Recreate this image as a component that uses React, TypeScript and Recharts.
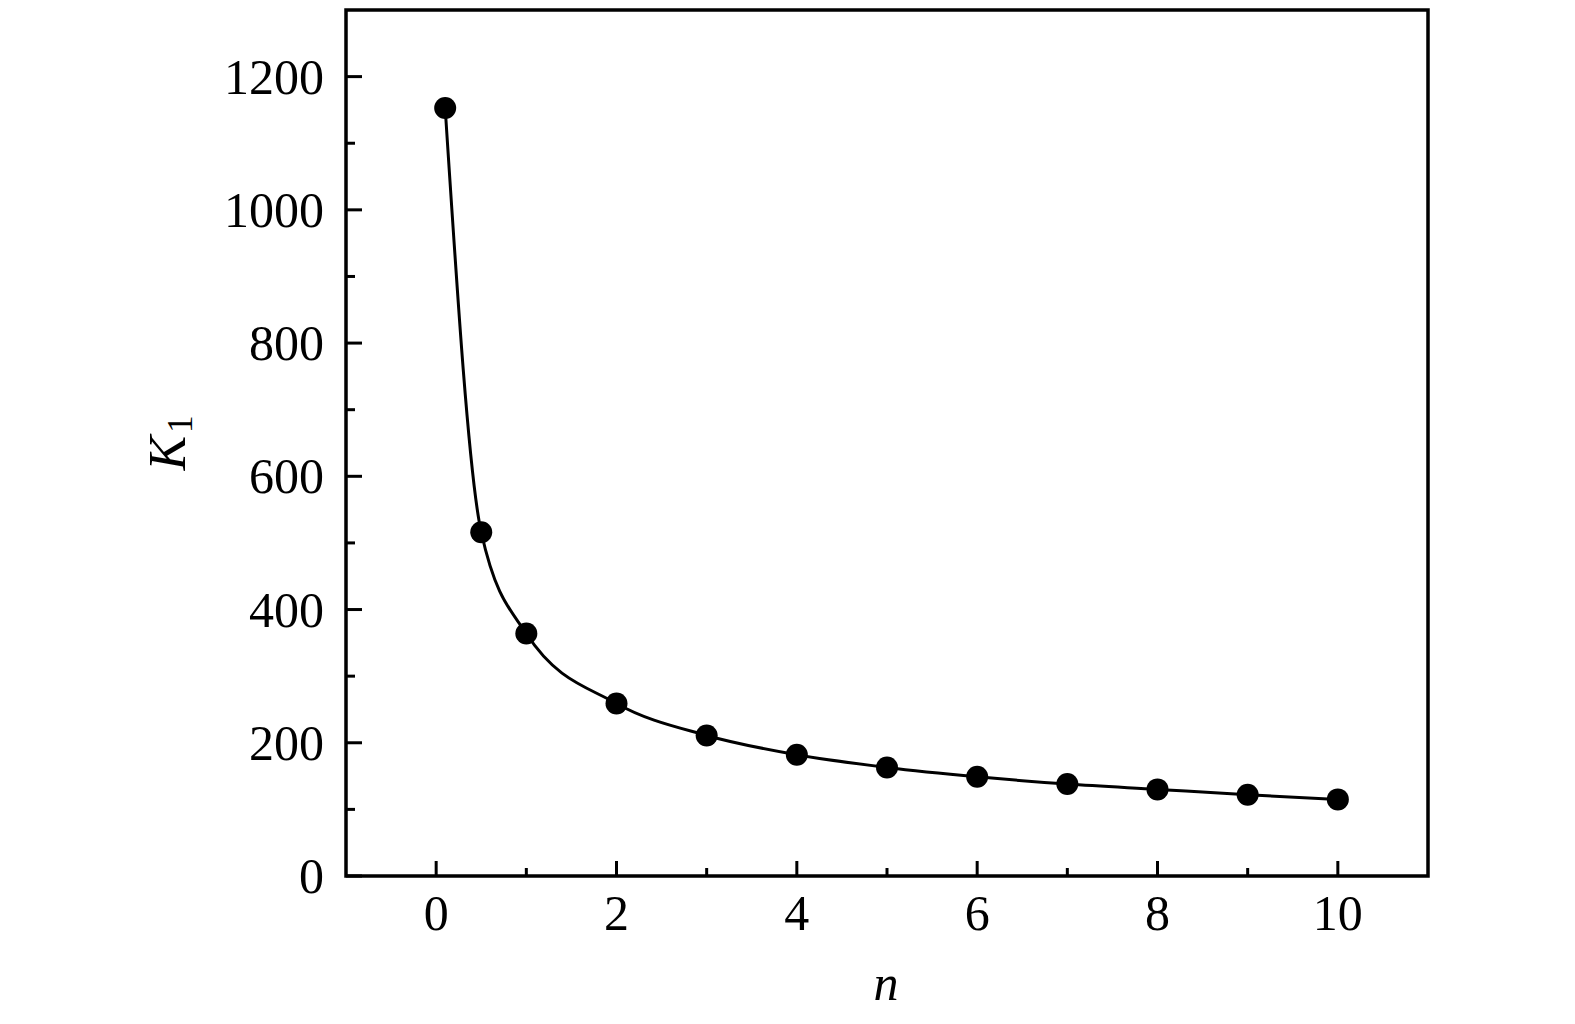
import { LineChart, Line, XAxis, YAxis, ReferenceArea, Label } from 'recharts'

// n values and fitted K1 values
const nValues = [0.1, 0.5, 1, 2, 3, 4, 5, 6, 7, 8, 9, 10]
const k1Values = [1153, 516, 364, 259, 211, 182, 163, 149, 138, 130, 122, 115]

const xTicks = [0, 1, 2, 3, 4, 5, 6, 7, 8, 9, 10]
const yTicks = [0, 100, 200, 300, 400, 500, 600, 700, 800, 900, 1000, 1100, 1200]

const data = nValues.map((n, i) => ({ n, k1: k1Values[i] }))

const FONT = '"Liberation Serif", "DejaVu Serif", serif'

function XTick(props: any) {
  const { x, y, payload } = props
  const major = payload.value % 2 === 0
  return (
    <g>
      <line x1={x} x2={x} y1={y} y2={y - (major ? 15 : 8)} stroke="#000" strokeWidth={3} />
      {major && (
        <text x={x} y={y + 54} textAnchor="middle" fontSize={50} fontFamily={FONT} fill="#000">
          {payload.value}
        </text>
      )}
    </g>
  )
}

function YTick(props: any) {
  const { x, y, payload } = props
  const major = payload.value % 200 === 0
  return (
    <g>
      <line x1={x} x2={x + (major ? 16 : 9)} y1={y} y2={y} stroke="#000" strokeWidth={3} />
      {major && (
        <text x={x - 22} y={y + 17} textAnchor="end" fontSize={50} fontFamily={FONT} fill="#000">
          {payload.value}
        </text>
      )}
    </g>
  )
}

function KLabel() {
  return (
    <text transform="translate(185,443) rotate(-90)" textAnchor="middle" fontFamily={FONT} fontSize={52} fill="#000">
      <tspan fontStyle="italic">K</tspan>
      <tspan fontSize={35} dx={3} dy={7}>1</tspan>
    </text>
  )
}

function NLabel() {
  return (
    <text x={886} y={1000} textAnchor="middle" fontFamily={FONT} fontSize={50} fontStyle="italic" fill="#000">
      n
    </text>
  )
}

export default function App() {
  return (
    <div style={{ position: 'absolute', left: 0, top: 0, background: '#fff' }}>
      <LineChart width={1575} height={1024} data={data} margin={{ top: 10, right: 147, bottom: 88, left: 246 }}>
        <XAxis
          dataKey="n"
          type="number"
          domain={[-1, 11]}
          ticks={xTicks}
          interval={0}
          axisLine={false}
          tickLine={false}
          tickSize={0}
          tickMargin={0}
          height={60}
          tick={<XTick />}
        >
          <Label content={<NLabel />} />
        </XAxis>
        <YAxis
          type="number"
          domain={[0, 1300]}
          ticks={yTicks}
          interval={0}
          axisLine={false}
          tickLine={false}
          tickSize={0}
          tickMargin={0}
          width={100}
          tick={<YTick />}
        >
          <Label content={<KLabel />} />
        </YAxis>
        <ReferenceArea x1={-1} x2={11} y1={0} y2={1300} fill="none" stroke="#000" strokeWidth={3.5} />
        <Line
          dataKey="k1"
          type="monotone"
          stroke="#000"
          strokeWidth={3}
          dot={{ r: 11, fill: '#000', stroke: '#000', strokeWidth: 0 }}
          isAnimationActive={false}
        />
      </LineChart>
    </div>
  )
}
